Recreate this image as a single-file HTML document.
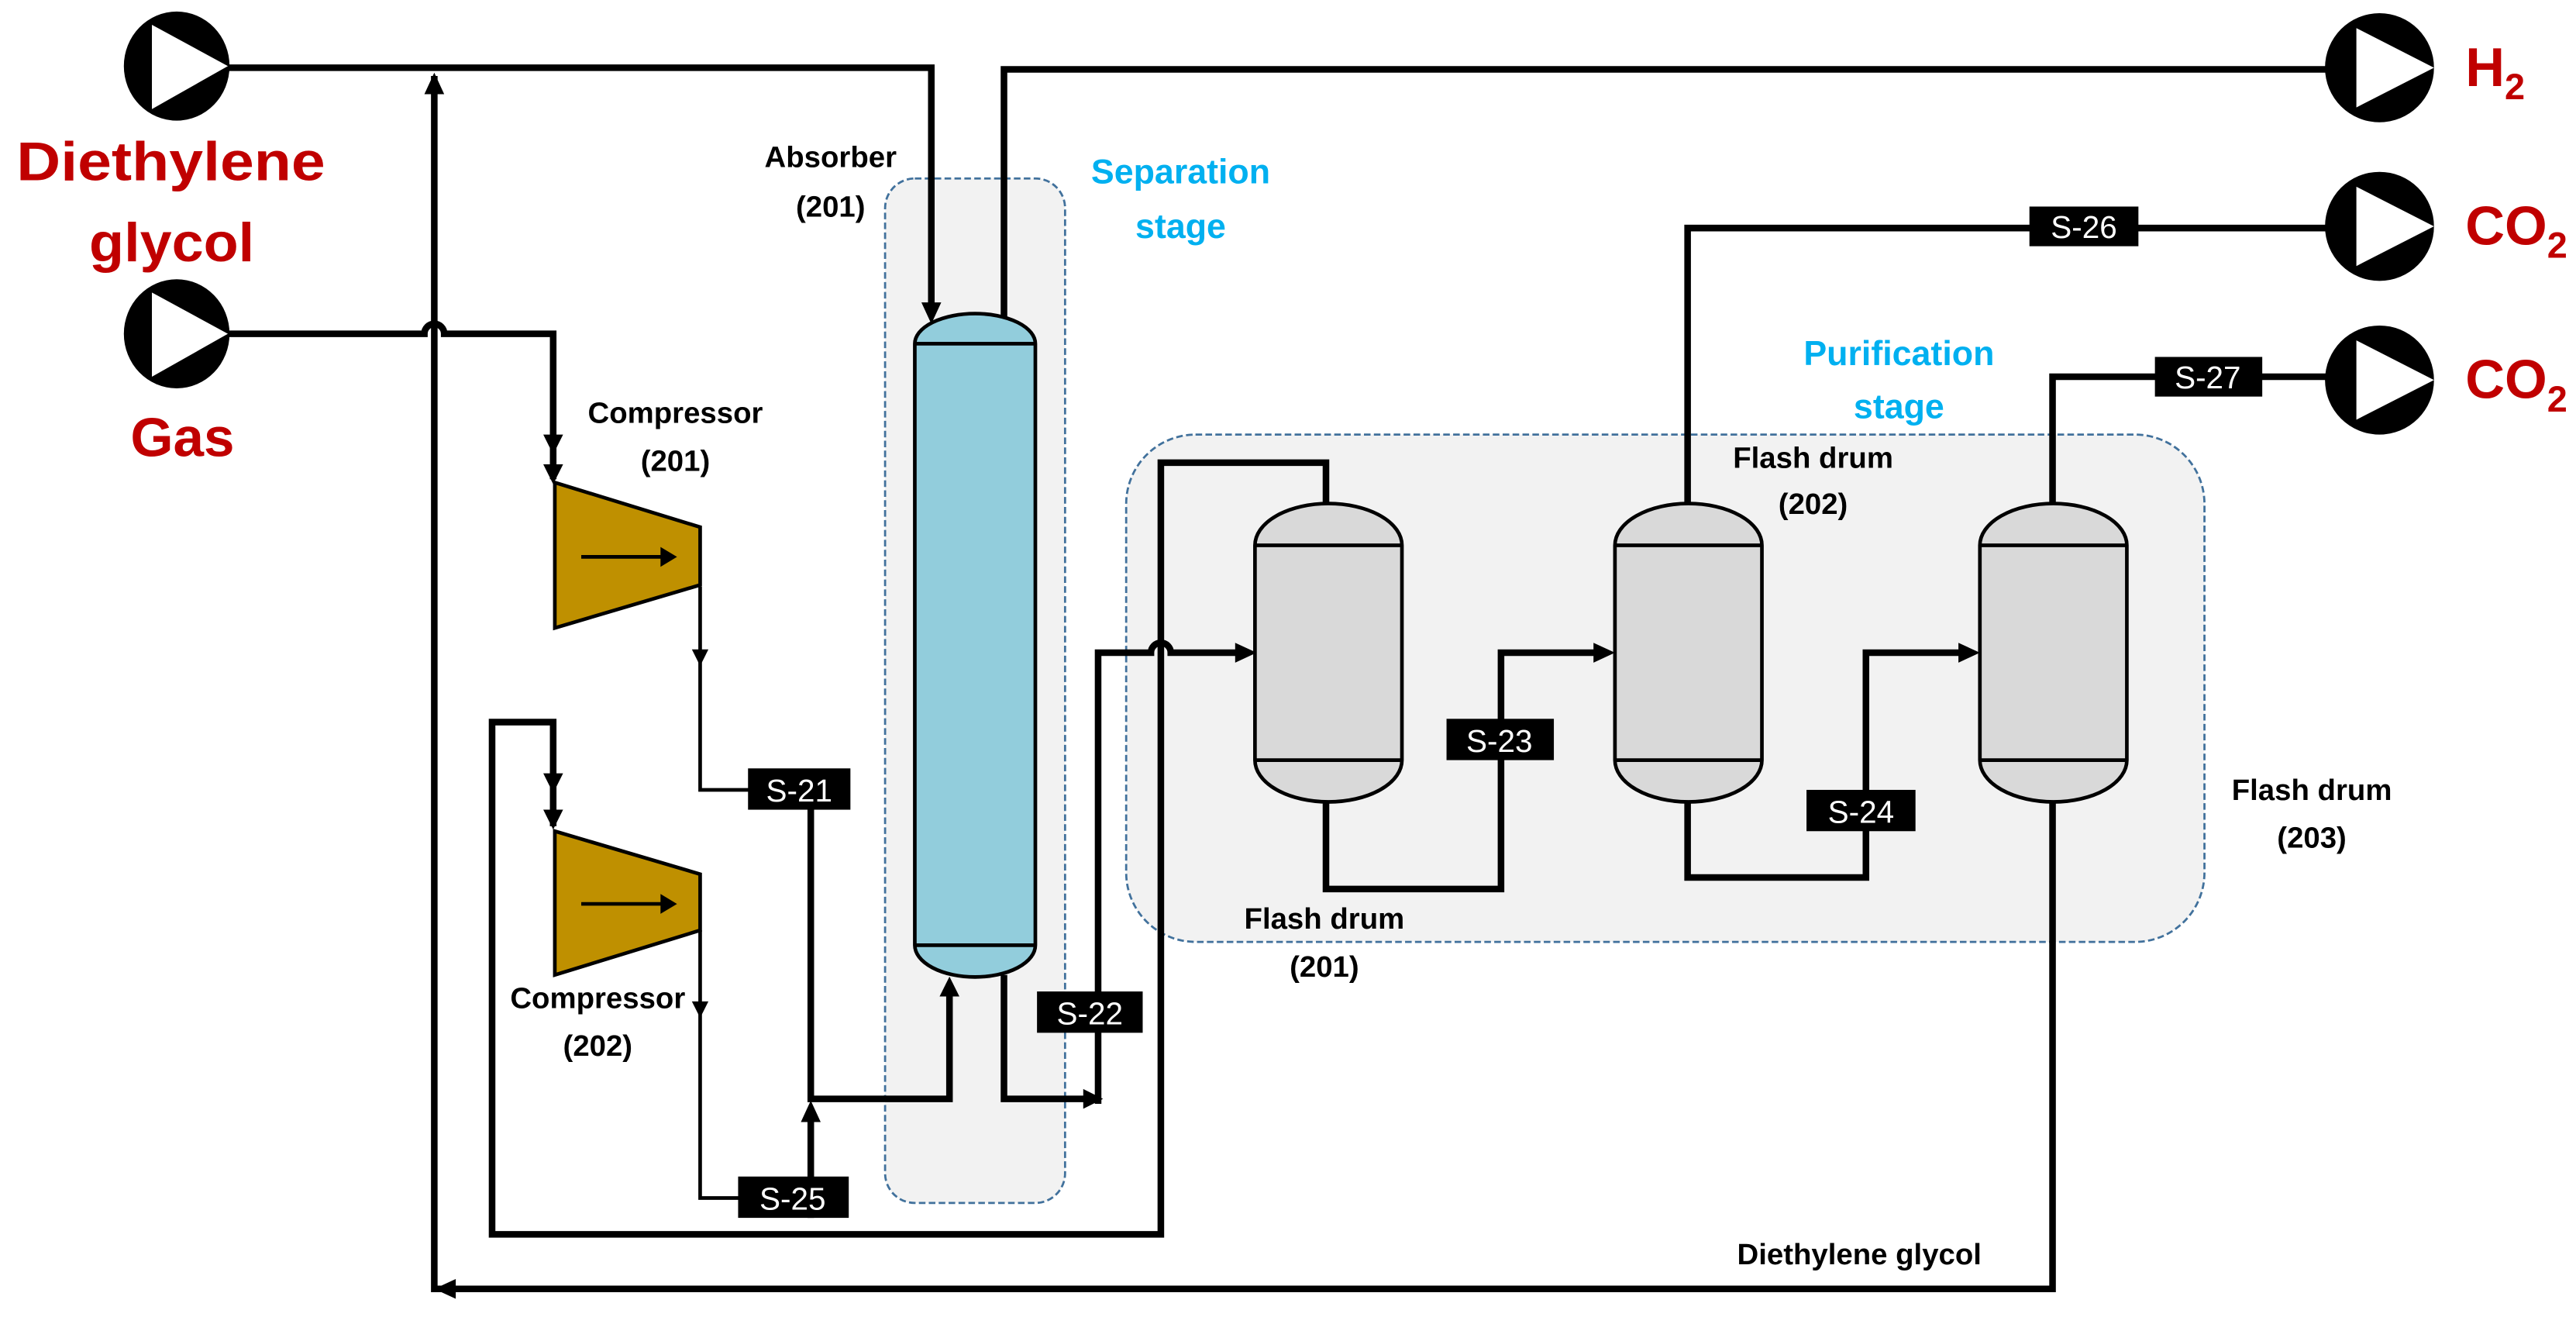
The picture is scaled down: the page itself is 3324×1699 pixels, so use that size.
<!DOCTYPE html>
<html><head><meta charset="utf-8"><style>
html,body{margin:0;padding:0;background:#fff;}
svg{display:block;}
text{font-family:"Liberation Sans",sans-serif;font-weight:bold;}
</style></head><body>
<svg width="3324" height="1699" viewBox="0 0 1560 797" preserveAspectRatio="none" xmlns="http://www.w3.org/2000/svg">
<!-- stage boxes -->
<rect x="536" y="108" width="109" height="620" rx="18" fill="#f2f2f2" stroke="#41719c" stroke-width="1.3" stroke-dasharray="4,2"/>
<rect x="682" y="263" width="653" height="307" rx="42" fill="#f2f2f2" stroke="#41719c" stroke-width="1.3" stroke-dasharray="4,2"/>

<g fill="none" stroke="#000" stroke-width="4" stroke-linejoin="miter">
<!-- DEG top line -->
<polyline points="138,41 564,41 564,186"/>
<!-- H2 line -->
<polyline points="608,196 608,42 1410,42"/>
<!-- recycle left vertical -->
<polyline points="1243,484 1243,780 263,780 263,46"/>
<!-- gas line with hop -->
<path d="M138,202 L257,202 A6,6 0 0 1 269,202 L335,202 L335,290"/>
<!-- loop to compressor 202 -->
<polyline points="803,305 803,280 703,280 703,747 298,747 298,437 335,437 335,500"/>
<!-- S-21 path -->
<polyline points="491,478 491,665 575,665 575,595"/>
<polyline points="491,737 491,672"/>
<!-- absorber bottom to drum 1 -->
<path d="M608,590 L608,665 L657,665 M665,668 L665,395 L697,395 A6,6 0 0 1 709,395 L752,395"/>
<!-- drum1 bottom to drum2 -->
<polyline points="803,484 803,538 909,538 909,395 970,395"/>
<!-- drum2 bottom to drum3 -->
<polyline points="1022,484 1022,531 1130,531 1130,395 1191,395"/>
<!-- drum2 top -->
<polyline points="1022,305 1022,138 1410,138"/>
<!-- drum3 top -->
<polyline points="1243,305 1243,228 1410,228"/>
</g>
<g fill="none" stroke="#000" stroke-width="2.2">
<polyline points="424,355 424,478 455,478"/>
<polyline points="424,563 424,725 450,725"/>
</g>

<!-- arrowheads -->
<g fill="#000">
<polygon points="558,183 570,183 564,196"/>
<polygon points="257,57 269,57 263,44"/>
<polygon points="276,774 276,786 263,780"/>
<polygon points="329,263 341,263 335,275"/>
<polygon points="329,281 341,281 335,293"/>
<polygon points="419,393 429,393 424,403"/>
<polygon points="329,468 341,468 335,480"/>
<polygon points="329,490 341,490 335,502"/>
<polygon points="419,606 429,606 424,616"/>
<polygon points="485,679 497,679 491,666"/>
<polygon points="569,603 581,603 575,591"/>
<polygon points="656,659 656,671 668,665"/>
<polygon points="748,389 748,401 761,395"/>
<polygon points="965,389 965,401 978,395"/>
<polygon points="1186,389 1186,401 1199,395"/>
</g>

<!-- compressors -->
<g stroke="#000" stroke-width="2.2">
<polygon points="336,292 424,319 424,354 336,380" fill="#bf9000"/>
<polygon points="336,503 424,529 424,563 336,590" fill="#bf9000"/>
</g>
<g stroke="#000" stroke-width="2.2"><line x1="352" y1="337" x2="402" y2="337"/><line x1="352" y1="547" x2="402" y2="547"/></g>
<polygon points="400,331 410,337 400,343" fill="#000"/>
<polygon points="400,541 410,547 400,553" fill="#000"/>

<!-- absorber -->
<path d="M554,208 A36,18 0 0 1 627,208 L627,572 A36,19 0 0 1 554,572 Z" fill="#92cddc" stroke="#000" stroke-width="2.2"/>
<line x1="554" y1="208" x2="627" y2="208" stroke="#000" stroke-width="2.2"/>
<line x1="554" y1="572" x2="627" y2="572" stroke="#000" stroke-width="2.2"/>

<!-- flash drums -->
<g fill="#d9d9d9" stroke="#000" stroke-width="2.2">
<path d="M760,330 A44,25 0 0 1 849,330 L849,460 A44,25 0 0 1 760,460 Z"/>
<path d="M978,330 A44,25 0 0 1 1067,330 L1067,460 A44,25 0 0 1 978,460 Z"/>
<path d="M1199,330 A44,25 0 0 1 1288,330 L1288,460 A44,25 0 0 1 1199,460 Z"/>
</g>
<g stroke="#000" stroke-width="2.2">
<line x1="760" y1="330" x2="849" y2="330"/><line x1="760" y1="460" x2="849" y2="460"/>
<line x1="978" y1="330" x2="1067" y2="330"/><line x1="978" y1="460" x2="1067" y2="460"/>
<line x1="1199" y1="330" x2="1288" y2="330"/><line x1="1199" y1="460" x2="1288" y2="460"/>
</g>

<!-- sources/sinks -->
<g>
<ellipse cx="107" cy="40" rx="32" ry="33" fill="#000"/>
<polygon points="92,15 138,40 92,66" fill="#fff"/>
<ellipse cx="107" cy="202" rx="32" ry="33" fill="#000"/>
<polygon points="92,177 138,202 92,228" fill="#fff"/>
<ellipse cx="1441" cy="41" rx="33" ry="33" fill="#000"/>
<polygon points="1427,17 1474,41 1427,65" fill="#fff"/>
<ellipse cx="1441" cy="137" rx="33" ry="33" fill="#000"/>
<polygon points="1427,113 1474,137 1427,161" fill="#fff"/>
<ellipse cx="1441" cy="230" rx="33" ry="33" fill="#000"/>
<polygon points="1427,206 1474,230 1427,254" fill="#fff"/>
</g>

<!-- stream boxes -->
<g fill="#000">
<rect x="453" y="465" width="62" height="25"/>
<rect x="447" y="712" width="67" height="25"/>
<rect x="628" y="600" width="64" height="25"/>
<rect x="876" y="435" width="65" height="25"/>
<rect x="1094" y="478" width="66" height="25"/>
<rect x="1229" y="125" width="66" height="24"/>
<rect x="1305" y="216" width="65" height="24"/>
</g>
<g fill="#fff" font-size="19" text-anchor="middle" style="font-weight:normal">
<text x="484" y="485" style="font-weight:normal">S-21</text>
<text x="480" y="732" style="font-weight:normal">S-25</text>
<text x="660" y="620" style="font-weight:normal">S-22</text>
<text x="908" y="455" style="font-weight:normal">S-23</text>
<text x="1127" y="498" style="font-weight:normal">S-24</text>
<text x="1262" y="144" style="font-weight:normal">S-26</text>
<text x="1337" y="235" style="font-weight:normal">S-27</text>
</g>

<!-- red labels -->
<g fill="#c00000" font-size="33">
<text x="10" y="109" textLength="187" lengthAdjust="spacingAndGlyphs">Diethylene</text>
<text x="54" y="158" textLength="100" lengthAdjust="spacingAndGlyphs">glycol</text>
<text x="79" y="276" textLength="63" lengthAdjust="spacingAndGlyphs">Gas</text>
<text x="1493" y="52">H<tspan font-size="22" dy="8">2</tspan></text>
<text x="1493" y="148">CO<tspan font-size="22" dy="8">2</tspan></text>
<text x="1493" y="241">CO<tspan font-size="22" dy="8">2</tspan></text>
</g>

<!-- blue labels -->
<g fill="#00b0f0" font-size="21" text-anchor="middle">
<text x="715" y="111">Separation</text>
<text x="715" y="144">stage</text>
<text x="1150" y="221">Purification</text>
<text x="1150" y="253">stage</text>
</g>

<!-- black labels -->
<g fill="#000" font-size="18" text-anchor="middle">
<text x="503" y="101">Absorber</text>
<text x="503" y="131">(201)</text>
<text x="409" y="256">Compressor</text>
<text x="409" y="285">(201)</text>
<text x="362" y="610">Compressor</text>
<text x="362" y="639">(202)</text>
<text x="802" y="562">Flash drum</text>
<text x="802" y="591">(201)</text>
<text x="1098" y="283">Flash drum</text>
<text x="1098" y="311">(202)</text>
<text x="1400" y="484">Flash drum</text>
<text x="1400" y="513">(203)</text>
<text x="1126" y="765">Diethylene glycol</text>
</g>
</svg>
</body></html>
